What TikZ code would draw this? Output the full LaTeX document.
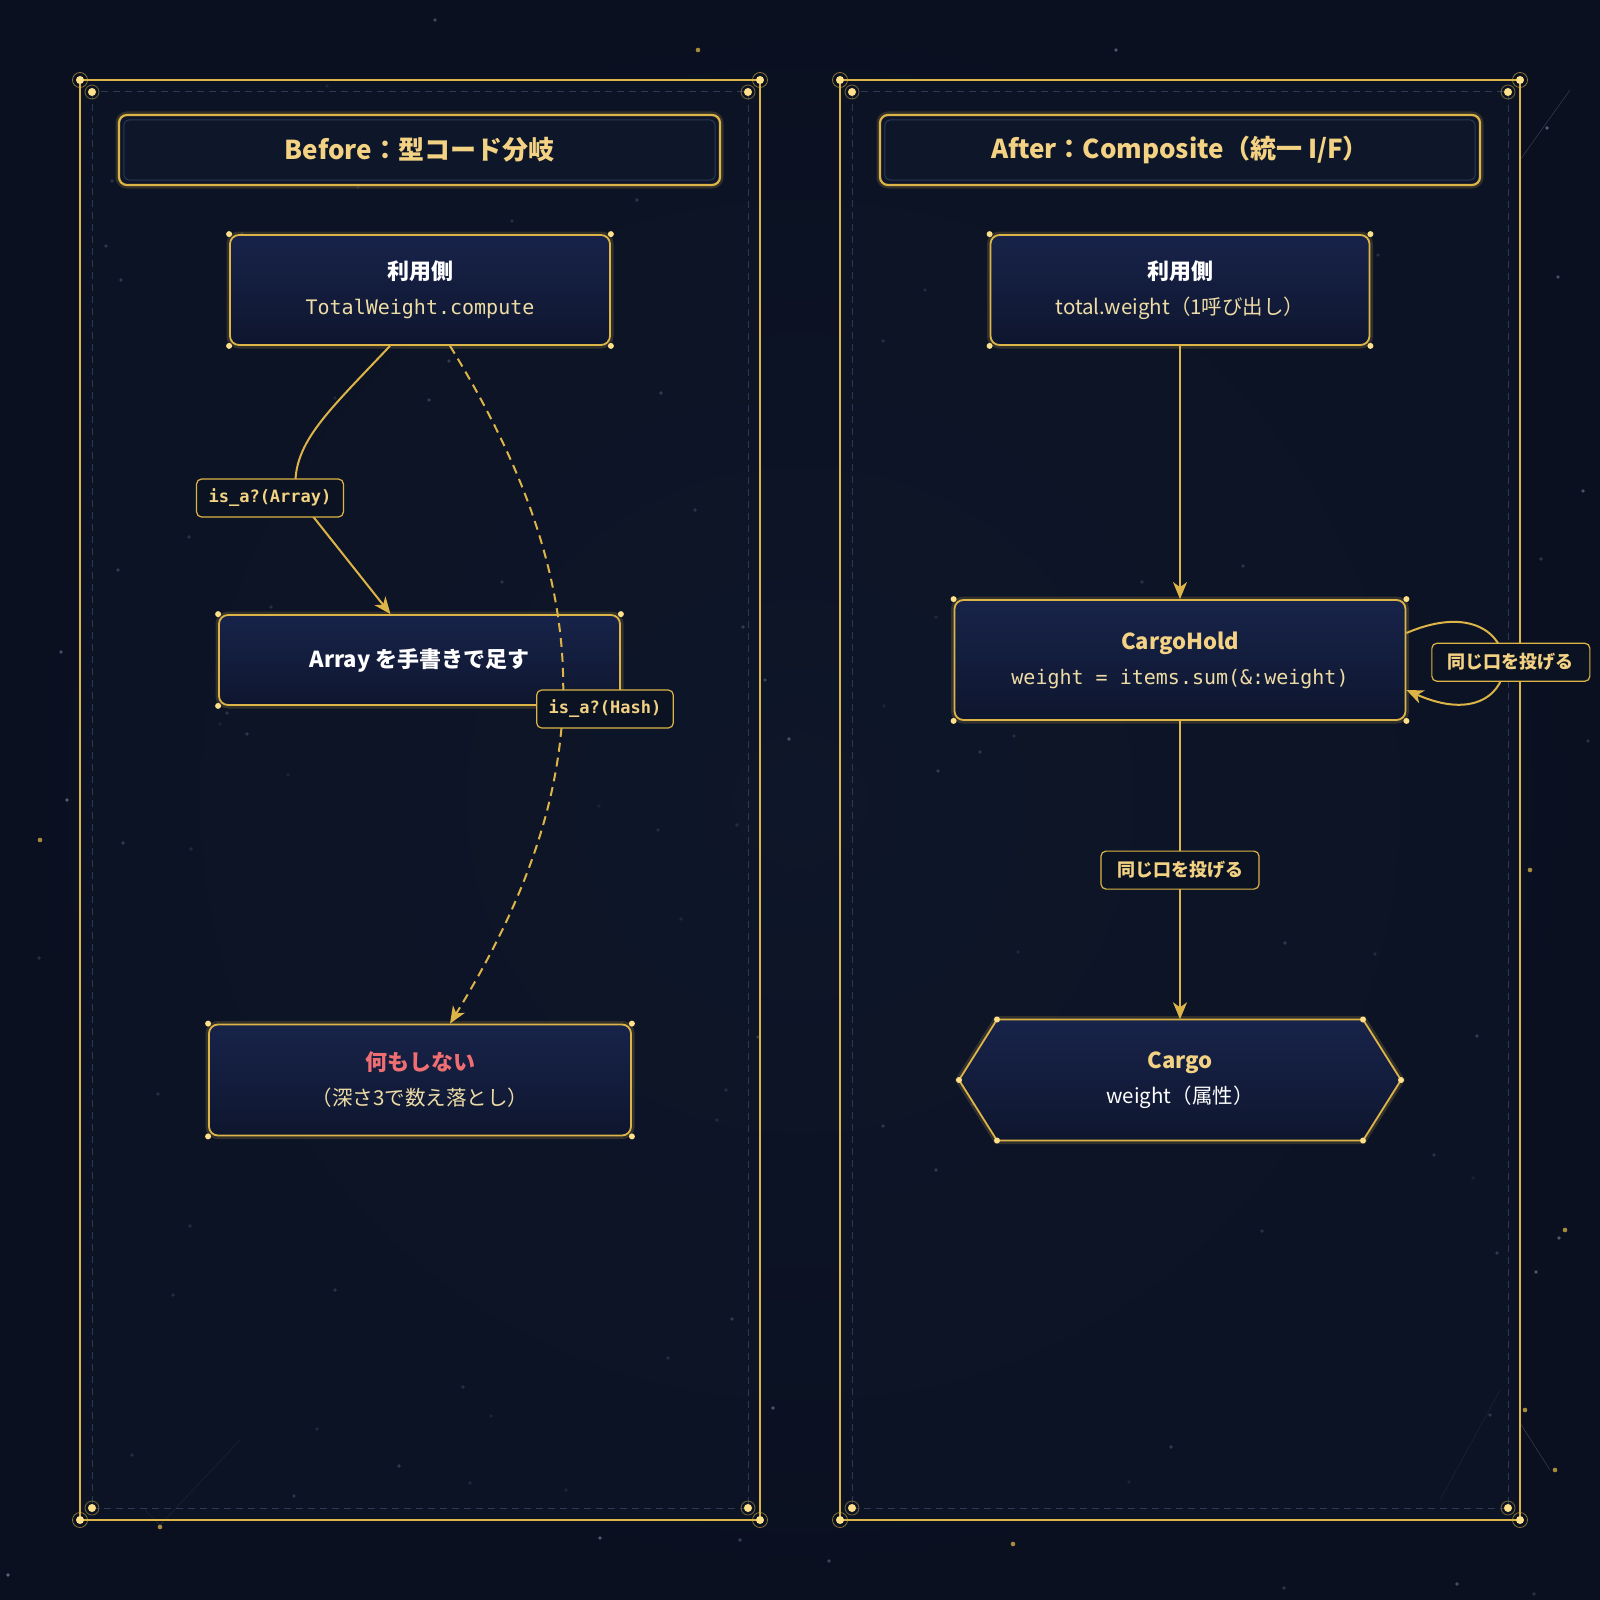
\documentclass[tikz,border=0pt]{standalone}
\usepackage{fontspec}
\setmainfont{Noto Sans CJK JP}
\setmonofont{DejaVu Sans Mono}
\usetikzlibrary{arrows.meta}
\usetikzlibrary{calc}

\definecolor{bgnavy}{HTML}{0A1020}
\definecolor{panelnavy}{HTML}{0E1629}
\definecolor{gold}{HTML}{DDB447}
\definecolor{lightgold}{HTML}{FFE08A}
\definecolor{titlegold}{HTML}{F3D283}
\definecolor{palegold}{HTML}{EEDCA6}
\definecolor{boxtop}{HTML}{18234A}
\definecolor{boxbot}{HTML}{0E162E}
\definecolor{lblfill}{HTML}{0B1222}
\definecolor{dashgray}{HTML}{2C3854}
\definecolor{coral}{HTML}{EE6E72}
\definecolor{stargray}{HTML}{6A7A92}

% text lines inside the boxes
\newcommand{\boxhead}[2][white]{{\bfseries\fontsize{22}{35}\selectfont\color{#1}#2}}
\newcommand{\boxcode}[2][palegold]{{\ttfamily\fontsize{20}{35}\selectfont\color{#1}#2}}
\newcommand{\boxnote}[2][palegold]{{\fontsize{20.5}{35}\selectfont\color{#1}#2}}

\tikzset{
  glow/.style={preaction={draw=gold, line width=7pt, opacity=.18}},
  box/.style={draw=gold, line width=1.8pt, rounded corners=9pt, top color=boxtop,
    bottom color=boxbot, align=center, glow, font=\fontsize{20}{35}\selectfont},
  titlebox/.style={draw=gold, line width=2.2pt, rounded corners=8pt, fill=panelnavy, glow,
    text=titlegold, font=\bfseries\fontsize{26}{30}\selectfont, minimum height=70pt},
  lbl/.style={draw=gold, line width=1.2pt, rounded corners=5pt, fill=lblfill, text=titlegold,
    minimum height=38pt, inner xsep=12pt, font=\ttfamily\bfseries\fontsize{17}{20}\selectfont},
  lbljp/.style={lbl, inner xsep=16pt, font=\bfseries\fontsize{18}{20}\selectfont},
  flow/.style={draw=gold, line width=2pt, -{Stealth[length=17pt,width=14pt,inset=5pt]}},
  hashflow/.style={flow, dash pattern=on 9pt off 6pt},
  cdot/.style={fill=lightgold},
}

\begin{document}
\begin{tikzpicture}[x=1pt,y=-1pt]

  % background
  \useasboundingbox (0,0) rectangle (1600,1600);
  \fill[bgnavy] (0,0) rectangle (1600,1600);
  \shade[inner color=panelnavy, outer color=bgnavy] (0,0) rectangle (1600,1600);

  % stars
  \pgfmathsetseed{4711}
  \foreach \i in {1,...,110} {
    \pgfmathsetmacro\sx{random(5,1595)}
    \pgfmathsetmacro\sy{random(5,1595)}
    \pgfmathsetmacro\so{0.3+0.5*rnd}
    \fill[stargray, opacity=\so] (\sx,\sy) circle[radius=1.8pt];
  }
  \foreach \sx/\sy in {40/840, 1530/870, 1555/1470, 160/1527, 1013/1544, 1525/1410, 698/50, 1565/1230}
    \fill[gold, opacity=.75] (\sx,\sy) circle[radius=2.3pt];

  % faint constellation lines
  \draw[stargray, opacity=.4, line width=.6pt] (1520,160) -- (1570,90);
  \draw[stargray, opacity=.4, line width=.6pt] (1520,1423) -- (1550,1470);
  \draw[stargray, opacity=.3, line width=.6pt] (1440,1500) -- (1500,1390);
  \draw[stargray, opacity=.3, line width=.6pt] (240,1440) -- (160,1525) -- (145,1510);

  % the two panels
  \foreach \px in {80,840} {
    \fill[panelnavy, opacity=.5] (\px,80) rectangle +(680,1440);
    \draw[dashgray, line width=1pt, dash pattern=on 7pt off 5pt] (\px+12,92) rectangle +(656,1416);
    \draw[gold, line width=1.6pt] (\px,80) rectangle +(680,1440);
    \foreach \cx/\cy in {0/0, 680/0, 0/1440, 680/1440} {
      \fill[lightgold] (\px+\cx,80+\cy) circle[radius=4pt];
      \draw[gold, opacity=.6, line width=.8pt] (\px+\cx,80+\cy) circle[radius=7.5pt];
    }
    \foreach \cx/\cy in {12/12, 668/12, 12/1428, 668/1428} {
      \fill[lightgold] (\px+\cx,80+\cy) circle[radius=4pt];
      \draw[gold, opacity=.5, line width=.8pt] (\px+\cx,80+\cy) circle[radius=7pt];
    }
  }

  % titles
  \node[titlebox, minimum width=601pt] (tB) at (419.5,150) {Before：型コード分岐};
  \node[titlebox, minimum width=600pt] (tA) at (1180,150) {After：Composite（統一 I/F）};
  \foreach \t in {tB,tA}
    \draw[dashgray, line width=1pt, rounded corners=5pt]
      ($(\t.north west)+(6,6)$) rectangle ($(\t.south east)+(-6,-6)$);

  % before: type-code branching
  \node[box, minimum width=380pt, minimum height=110pt] (uL) at (420,290)
    {\boxhead{利用側}\\\boxcode{TotalWeight.compute}};
  \node[box, minimum width=401pt, minimum height=90pt] (addArr) at (419.5,660)
    {\boxhead{Array を手書きで足す}};
  \node[box, minimum width=422pt, minimum height=111pt] (noop) at (420,1080)
    {\boxhead[coral]{何もしない}\\\boxnote{（深さ3で数え落とし）}};

  % after: composite
  \node[box, minimum width=379pt, minimum height=110pt] (uR) at (1180,290)
    {\boxhead{利用側}\\\boxnote{total.weight（1呼び出し）}};
  \node[box, minimum width=451pt, minimum height=120pt] (hold) at (1180,660)
    {\boxhead[titlegold]{CargoHold}\\\boxcode{weight = items.sum(\&:weight)}};

  % hexagon for the leaf
  \coordinate (cg) at (1180,1080);
  \shadedraw[top color=boxtop, bottom color=boxbot, draw=gold, line width=1.8pt, glow]
    ($(cg)+(-183,-60.5)$) -- ($(cg)+(183,-60.5)$) -- ($(cg)+(221,0)$)
    -- ($(cg)+(183,60.5)$) -- ($(cg)+(-183,60.5)$) -- ($(cg)+(-221,0)$) -- cycle;
  \foreach \hx/\hy in {-183/-60.5, 183/-60.5, 221/0, 183/60.5, -183/60.5, -221/0}
    \fill[cdot] ($(cg)+(\hx,\hy)$) circle[radius=3pt];
  \node[align=center, minimum width=365pt, minimum height=121pt, font=\fontsize{20}{35}\selectfont] (cargo) at (cg)
    {\boxhead[titlegold]{Cargo}\\\boxnote[white]{weight（属性）}};

  % corner dots of the boxes
  \foreach \n in {uL,addArr,noop,uR,hold}
    \foreach \a in {north west,north east,south west,south east}
      \fill[cdot] (\n.\a) circle[radius=3pt];

  % connectors: before
  \draw[flow] ($(uL.south)+(-30,0)$) .. controls (325,415) and (290,445) .. (296,495)
    -- ($(addArr.north)+(-29,0)$);
  \node[lbl] (lArr) at (270,498) {is\_a?(Array)};
  \draw[hashflow] ($(uL.south)+(30,0)$) .. controls (600,590) and (600,780) .. ($(noop.north)+(30,0)$);
  \node[lbl] (lHash) at (605,709) {is\_a?(Hash)};

  % connectors: after
  \draw[flow] (uR.south) -- (hold.north);
  \draw[flow] (hold.south) -- (cargo.north) node[lbljp, midway] (lMid) {同じ口を投げる};
  \draw[flow] ($(hold.east)+(0,-27)$) .. controls (1535,578) and (1535,747) .. ($(hold.east)+(0,30)$)
    node[lbljp, pos=.5, xshift=8pt] (lSelf) {同じ口を投げる};

\end{tikzpicture}
\end{document}
